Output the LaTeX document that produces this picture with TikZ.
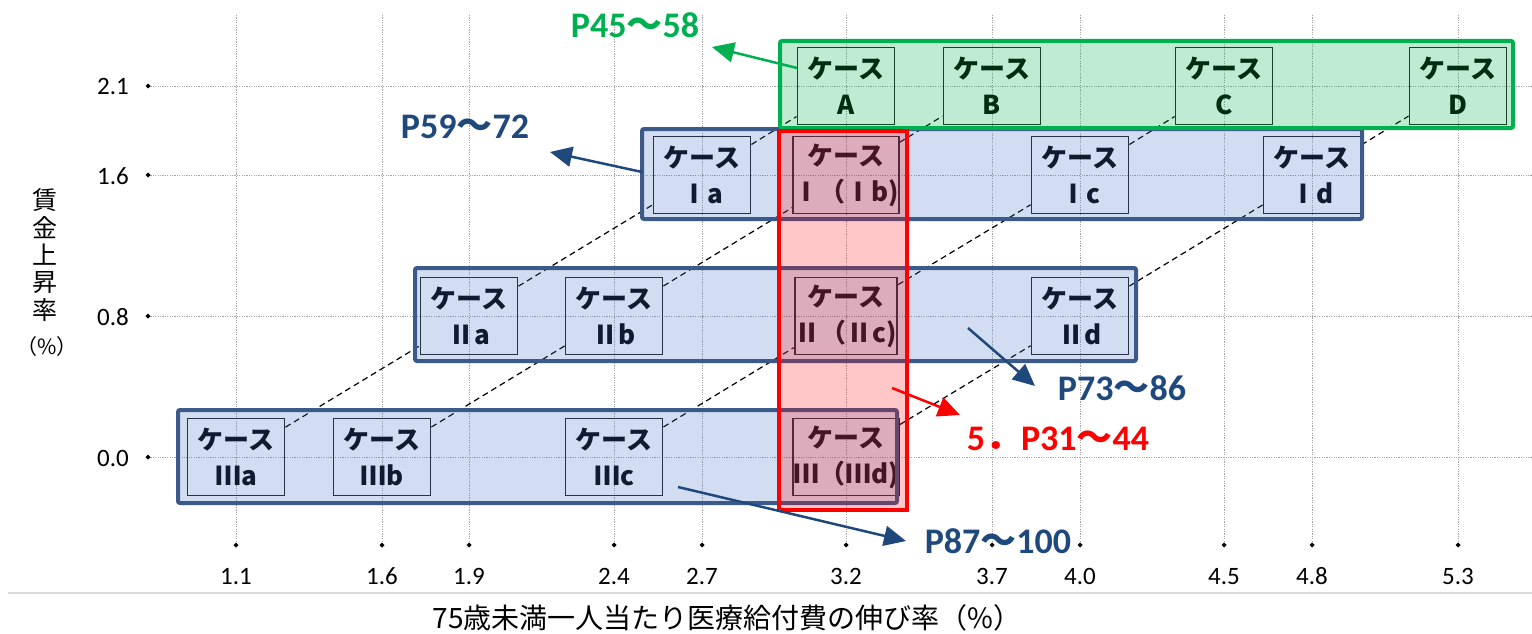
\documentclass[tikz,border=0pt]{standalone}
\usepackage{fontspec}
\setmainfont{Carlito}
\newfontfamily\jp{Noto Sans CJK JP}
\usetikzlibrary{arrows.meta}
\definecolor{grn}{RGB}{0,176,80}
\definecolor{nav}{RGB}{31,73,125}
\definecolor{bbord}{RGB}{59,90,138}
\definecolor{bfill}{RGB}{68,114,196}
\definecolor{gridc}{RGB}{165,165,165}
\definecolor{sepc}{RGB}{217,217,217}
\definecolor{rd}{RGB}{255,0,0}
\newcommand\pwave{{\jp\bfseries 〜}}
\tikzset{
 gridline/.style={gridc, line width=0.9pt, dash pattern=on 1.2pt off 1.2pt},
 ticklab/.style={font=\fontsize{25}{25}\selectfont, inner sep=0pt},
 casebox/.style={draw=black!88, line width=1.8pt, minimum width=97pt, minimum height=77pt, inner sep=0pt, align=center, font=\jp\bfseries\fontsize{26}{36}\selectfont},
 dashln/.style={black, line width=1.2pt, dash pattern=on 6pt off 4pt},
 bluebox/.style={draw=bbord, line width=4pt, fill=bfill, fill opacity=0.24, rounded corners=2pt, inner sep=0pt},
 greenbox/.style={draw=grn, line width=4pt, fill=grn, fill opacity=0.25, rounded corners=2pt, inner sep=0pt},
 redbox/.style={draw=rd, line width=4pt, fill=rd, fill opacity=0.22, inner sep=0pt},
 pointer/.style={line width=2.5pt, -{Triangle[length=22pt,width=20pt]}},
 pagelab/.style={font=\bfseries\fontsize{36}{36}\selectfont, inner sep=0pt, anchor=base},
}
\begin{document}
\begin{tikzpicture}[x=1pt,y=-1pt]
\useasboundingbox (0,0) rectangle (1532,634);
% grid, markers, tick labels
\foreach \x/\l [count=\i] in {236/1.1,382/1.6,469/1.9,614/2.4,702/2.7,846/3.2,992/3.7,1080/4.0,1224/4.5,1312/4.8,1458/5.3}{
  \draw[gridline] (\x,15) -- (\x,545);
  \fill (\x,545) +(-2.5,0) -- +(0,-2.5) -- +(2.5,0) -- +(0,2.5) -- cycle;
  \node[ticklab, anchor=base] (xl\i) at (\x,584) {\l};
}
\foreach \y/\l [count=\i] in {86/2.1,175/1.6,316/0.8,457/0.0}{
  \draw[gridline] (148,\y) -- (1532,\y);
  \fill (148,\y) +(-2.5,0) -- +(0,-2.5) -- +(2.5,0) -- +(0,2.5) -- cycle;
  \node[ticklab, anchor=base east] (yl\i) at (129,\y+9) {\l};
}
\draw[sepc, line width=1.5pt] (8,593) -- (1532,593);
% axis titles
\node[font=\jp\fontsize{28}{28}\selectfont, inner sep=0pt] (xtitle) at (727,618) {75歳未満一人当たり医療給付費の伸び率（\%）};
\node[font=\jp\fontsize{25}{27.3}\selectfont, align=center, inner sep=0pt] (ytitle) at (45,255) {賃\\金\\上\\昇\\率};
\node[font=\jp\fontsize{21}{21}\selectfont, inner sep=0pt] (yunit) at (47,347) {（\%）};
% case boxes
\node[casebox] (A) at (846,86) {ケース\\A};
\node[casebox] (B) at (992,86) {ケース\\B};
\node[casebox] (C) at (1224,86) {ケース\\C};
\node[casebox] (D) at (1458,86) {ケース\\D};
\node[casebox] (Ia) at (702,175) {ケース\\Ⅰa};
\node[casebox] (Ib) at (846,175) {ケース\\Ⅰ（Ⅰb)};
\node[casebox] (Ic) at (1080,175) {ケース\\Ⅰc};
\node[casebox] (Id) at (1312,175) {ケース\\Ⅰd};
\node[casebox] (IIa) at (469,316) {ケース\\Ⅱa};
\node[casebox] (IIb) at (614,316) {ケース\\Ⅱb};
\node[casebox] (IIc) at (846,316) {ケース\\Ⅱ（Ⅱc)};
\node[casebox] (IId) at (1080,316) {ケース\\Ⅱd};
\node[casebox] (IIIa) at (236,457) {ケース\\Ⅲa};
\node[casebox] (IIIb) at (382,457) {ケース\\Ⅲb};
\node[casebox] (IIIc) at (614,457) {ケース\\Ⅲc};
\node[casebox] (IIId) at (846,457) {ケース\\Ⅲ（Ⅲd)};
% diagonal dashed links
\foreach \a/\b in {IIIa/IIa,IIa/Ia,Ia/A,IIIb/IIb,IIb/Ib,Ib/B,IIIc/IIc,IIc/Ic,Ic/C,IIId/IId,IId/Id,Id/D}
  \draw[dashln] (\a) -- (\b);
% group boxes
\node[bluebox, minimum width=719pt, minimum height=93pt] (rowIII) at (537.5,456.5) {};
\node[bluebox, minimum width=721pt, minimum height=93pt] (rowII) at (775.5,314.5) {};
\node[bluebox, minimum width=720pt, minimum height=90pt] (rowI) at (1002,174) {};
\node[greenbox, minimum width=733pt, minimum height=87pt] (rowA) at (1146.5,84.5) {};
\node[redbox, minimum width=128pt, minimum height=379pt] (col) at (843,320.5) {};
% pointers
\coordinate (gs) at (797,68);  \coordinate (gt) at (712,47);
\coordinate (bs1) at (642,172); \coordinate (bt1) at (550,152);
\coordinate (bs2) at (968,328); \coordinate (bt2) at (1035,386);
\coordinate (rs) at (892,388);  \coordinate (rt) at (960,415);
\coordinate (bs3) at (678,487); \coordinate (bt3) at (906,541);
\draw[pointer, grn] (gs) -- (gt);
\draw[pointer, nav] (bs1) -- (bt1);
\draw[pointer, nav] (bs2) -- (bt2);
\draw[pointer, rd] (rs) -- (rt);
\draw[pointer, nav] (bs3) -- (bt3);
% page labels
\node[pagelab, text=grn] (lA) at (635,38) {P45\pwave58};
\node[pagelab, text=nav] (lI) at (465,139) {P59\pwave72};
\node[pagelab, text=nav] (lII) at (1122,400) {P73\pwave86};
\node[pagelab, text=rd] (lC) at (1058,450) {5{\jp\bfseries ．}P31\pwave44};
\node[pagelab, text=nav] (lIII) at (998,553) {P87\pwave100};
\end{tikzpicture}
\end{document}
